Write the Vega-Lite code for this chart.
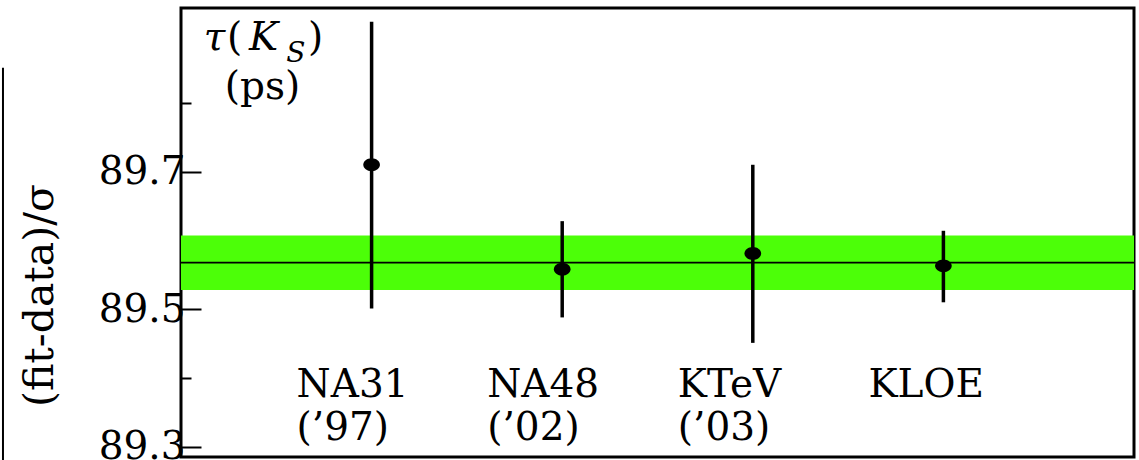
{
  "$schema": "https://vega.github.io/schema/vega-lite/v6.json",
  "autosize": {"type": "none"},
  "width": 953,
  "height": 449,
  "padding": {"left": 181, "top": 8, "right": 5, "bottom": 3},
  "background": "white",
  "config": {
    "view": {"stroke": "black", "strokeWidth": 3},
    "font": "DejaVu Serif"
  },
  "datasets": {
    "fit": [{"lo": 89.528, "hi": 89.607, "mid": 89.5677}],
    "meas": [
      {"pos": 1, "exp": "NA31", "yr": "(’97)", "value": 89.710, "lo": 89.501, "hi": 89.918},
      {"pos": 2, "exp": "NA48", "yr": "(’02)", "value": 89.558, "lo": 89.488, "hi": 89.628},
      {"pos": 3, "exp": "KTeV", "yr": "(’03)", "value": 89.581, "lo": 89.451, "hi": 89.710},
      {"pos": 4, "exp": "KLOE", "yr": "", "value": 89.563, "lo": 89.510, "hi": 89.614}
    ],
    "ann": [
      {"px": 0.176, "py": 89.8768, "t": "τ", "kind": "it"},
      {"px": 0.281, "py": 89.8768, "t": "(", "kind": "up"},
      {"px": 0.433, "py": 89.8768, "t": "K", "kind": "it"},
      {"px": 0.706, "py": 89.8768, "t": ")", "kind": "up"},
      {"px": 0.428, "py": 89.8058, "t": "(ps)", "kind": "up"}
    ],
    "sub": [{"px": 0.603, "py": 89.8594, "t": "S"}],
    "edge": [{"ex": -0.934, "ylo": 89.27, "yhi": 89.851}]
  },
  "layer": [
    {
      "data": {"name": "fit"},
      "mark": {"type": "rect", "color": "#4cff08"},
      "encoding": {
        "y": {"field": "lo", "type": "quantitative",
          "scale": {"domain": [89.285, 89.938], "nice": false, "zero": false},
          "axis": {
            "title": "(fit-data)/σ",
            "values": [89.3, 89.4, 89.5, 89.6, 89.7, 89.8],
            "labelExpr": "indexof(['89.3','89.5','89.7'], format(datum.value,'.1f')) >= 0 ? format(datum.value,'.1f') : ''",
            "tickSize": {"condition": {"test": "indexof(['89.3','89.5','89.7'], format(datum.value,'.1f')) >= 0", "value": -20}, "value": -10},
            "tickWidth": 2,
            "tickColor": "black",
            "domain": false,
            "grid": false,
            "labelFont": "DejaVu Serif",
            "labelFontSize": 39,
            "labelColor": "black",
            "labelPadding": 16,
            "labelBaseline": "middle",
            "labelFlush": false,
            "labelOverlap": false,
            "titleFont": "DejaVu Serif",
            "titleFontSize": 41,
            "titleFontWeight": "normal",
            "titleColor": "black",
            "titleX": -141,
            "titleY": 287,
            "titleAlign": "center",
            "titleBaseline": "middle",
            "titleAngle": -90
          }
        },
        "y2": {"field": "hi"}
      }
    },
    {
      "data": {"name": "fit"},
      "mark": {"type": "rule", "color": "black", "strokeWidth": 1.6},
      "encoding": {"y": {"field": "mid", "type": "quantitative"}}
    },
    {
      "data": {"name": "meas"},
      "mark": {"type": "rule", "color": "black", "strokeWidth": 3.5},
      "encoding": {
        "x": {"field": "pos", "type": "quantitative", "scale": {"domain": [0, 5], "nice": false, "zero": false}, "axis": null},
        "y": {"field": "lo", "type": "quantitative"},
        "y2": {"field": "hi"}
      }
    },
    {
      "data": {"name": "edge"},
      "mark": {"type": "rule", "color": "black", "strokeWidth": 2, "clip": false},
      "encoding": {
        "x": {"field": "ex", "type": "quantitative"},
        "y": {"field": "ylo", "type": "quantitative"},
        "y2": {"field": "yhi"}
      }
    },
    {
      "data": {"name": "meas"},
      "mark": {"type": "point", "filled": true, "color": "black", "opacity": 1, "size": 165,
        "shape": "M-1.3,0A1.3,1,0,1,0,1.3,0A1.3,1,0,1,0,-1.3,0Z"},
      "encoding": {
        "x": {"field": "pos", "type": "quantitative"},
        "y": {"field": "value", "type": "quantitative"}
      }
    },
    {
      "data": {"name": "meas"},
      "mark": {"type": "text", "align": "left", "baseline": "alphabetic", "dx": -75, "fontSize": 39, "font": "DejaVu Serif", "color": "black"},
      "encoding": {
        "x": {"field": "pos", "type": "quantitative"},
        "y": {"datum": 89.372, "type": "quantitative"},
        "text": {"field": "exp"}
      }
    },
    {
      "data": {"name": "meas"},
      "mark": {"type": "text", "align": "left", "baseline": "alphabetic", "dx": -75, "fontSize": 39, "font": "DejaVu Serif", "color": "black"},
      "encoding": {
        "x": {"field": "pos", "type": "quantitative"},
        "y": {"datum": 89.309, "type": "quantitative"},
        "text": {"field": "yr"}
      }
    },
    {
      "data": {"name": "ann"},
      "transform": [{"filter": "datum.kind == 'it'"}],
      "mark": {"type": "text", "align": "center", "baseline": "alphabetic", "fontSize": 39, "fontStyle": "italic", "font": "DejaVu Serif", "color": "black"},
      "encoding": {
        "x": {"field": "px", "type": "quantitative"},
        "y": {"field": "py", "type": "quantitative"},
        "text": {"field": "t"}
      }
    },
    {
      "data": {"name": "ann"},
      "transform": [{"filter": "datum.kind == 'up'"}],
      "mark": {"type": "text", "align": "center", "baseline": "alphabetic", "fontSize": 39, "font": "DejaVu Serif", "color": "black"},
      "encoding": {
        "x": {"field": "px", "type": "quantitative"},
        "y": {"field": "py", "type": "quantitative"},
        "text": {"field": "t"}
      }
    },
    {
      "data": {"name": "sub"},
      "mark": {"type": "text", "align": "center", "baseline": "alphabetic", "fontSize": 28, "fontStyle": "italic", "font": "DejaVu Serif", "color": "black"},
      "encoding": {
        "x": {"field": "px", "type": "quantitative"},
        "y": {"field": "py", "type": "quantitative"},
        "text": {"field": "t"}
      }
    }
  ]
}
